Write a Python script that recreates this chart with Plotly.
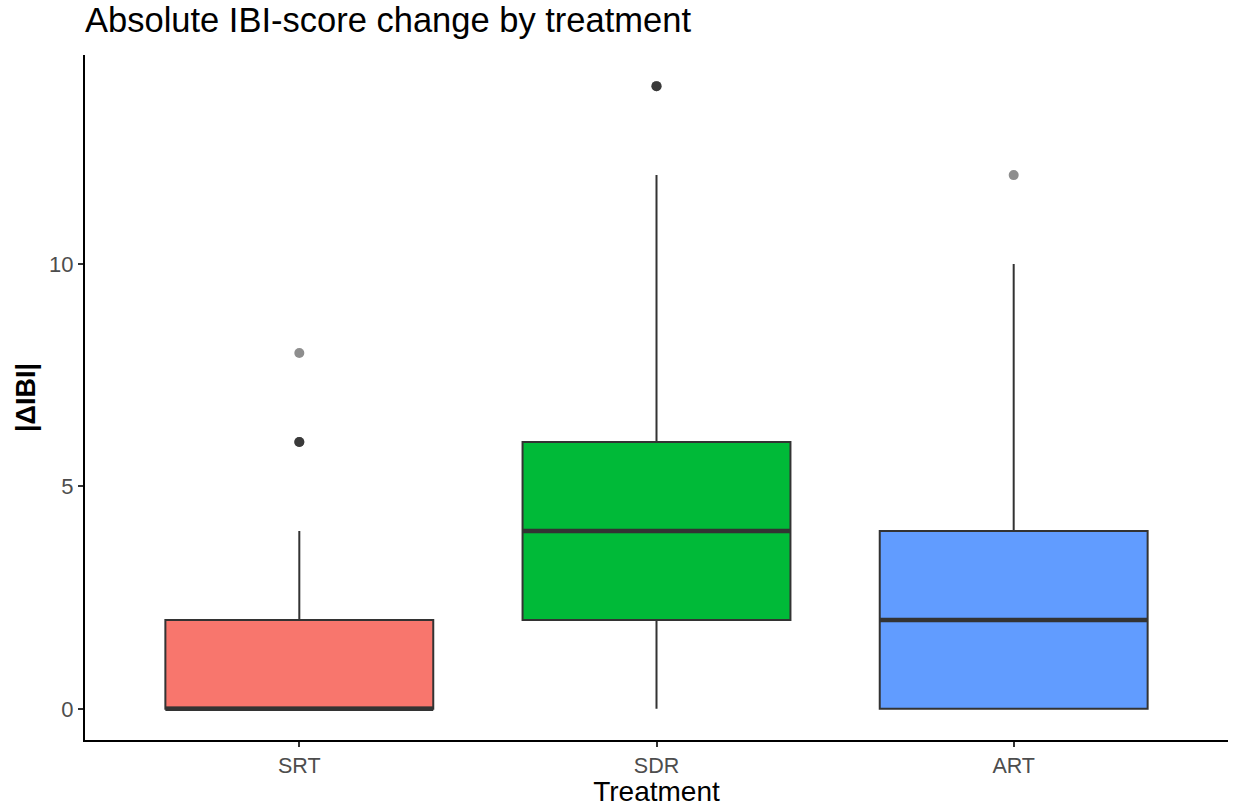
import plotly.graph_objects as go

# Treatment groups and their box-plot summary statistics
treatments = ["SRT", "SDR", "ART"]
q1 = [0, 2, 0]
medians = [0, 4, 2]
q3 = [2, 6, 4]
lower_whisker = [0, 0, 0]
upper_whisker = [4, 12, 10]
fill_colors = ["#F8766D", "#00BA38", "#619CFF"]

# Outlying observations per treatment (repeated values overlap)
outliers = {
    "SRT": [6, 6, 6, 8],
    "SDR": [14, 14, 14],
    "ART": [12],
}

y_ticks = [0, 5, 10]
box_width = 0.75

fig = go.Figure()

for i, name in enumerate(treatments):
    pos = i + 1
    fig.add_trace(go.Box(
        x=[pos],
        q1=[q1[i]], median=[medians[i]], q3=[q3[i]],
        lowerfence=[lower_whisker[i]], upperfence=[upper_whisker[i]],
        boxpoints=False,
        width=box_width,
        fillcolor=fill_colors[i],
        line=dict(color="#333333", width=2),
        whiskerwidth=0,
        showlegend=False,
        hoverinfo="skip",
    ))
    # thicker median bar
    fig.add_trace(go.Scatter(
        x=[pos - box_width / 2, pos + box_width / 2],
        y=[medians[i], medians[i]],
        mode="lines",
        line=dict(color="#333333", width=4.5),
        showlegend=False,
        hoverinfo="skip",
    ))
    pts = outliers[name]
    fig.add_trace(go.Scatter(
        x=[pos] * len(pts),
        y=pts,
        mode="markers",
        marker=dict(color="rgba(30,30,30,0.5)", size=10, line=dict(width=0)),
        showlegend=False,
        hoverinfo="skip",
    ))

fig.update_layout(
    width=1233, height=807,
    margin=dict(l=85, r=5, t=55, b=67),
    plot_bgcolor="white", paper_bgcolor="white",
    font=dict(family="Liberation Sans, Arial, sans-serif"),
    title=dict(
        text="Absolute IBI-score change by treatment",
        x=85 / 1233, xanchor="left", xref="container",
        y=1 - 20 / 807, yanchor="middle", yref="container",
        font=dict(size=34.5, color="black"),
    ),
    xaxis=dict(
        range=[0.4, 3.6],
        tickmode="array", tickvals=[1, 2, 3], ticktext=treatments,
        showgrid=False, zeroline=False, automargin=False,
        showline=True, linecolor="black", linewidth=2,
        ticks="outside", ticklen=5, tickwidth=2, tickcolor="#333333",
        tickfont=dict(size=21.5, color="#4D4D4D"),
        title=dict(text="Treatment", font=dict(size=28, color="black"), standoff=8),
    ),
    yaxis=dict(
        range=[-0.7, 14.7],
        tickmode="array", tickvals=y_ticks,
        showgrid=False, zeroline=False, automargin=False,
        showline=True, linecolor="black", linewidth=2,
        ticks="outside", ticklen=5, tickwidth=2, tickcolor="#333333",
        tickfont=dict(size=22, color="#4D4D4D"),
        title=dict(text="<b>|ΔIBI|</b>", font=dict(size=27, color="black"), standoff=6),
    ),
)

fig.write_html("out.html")
